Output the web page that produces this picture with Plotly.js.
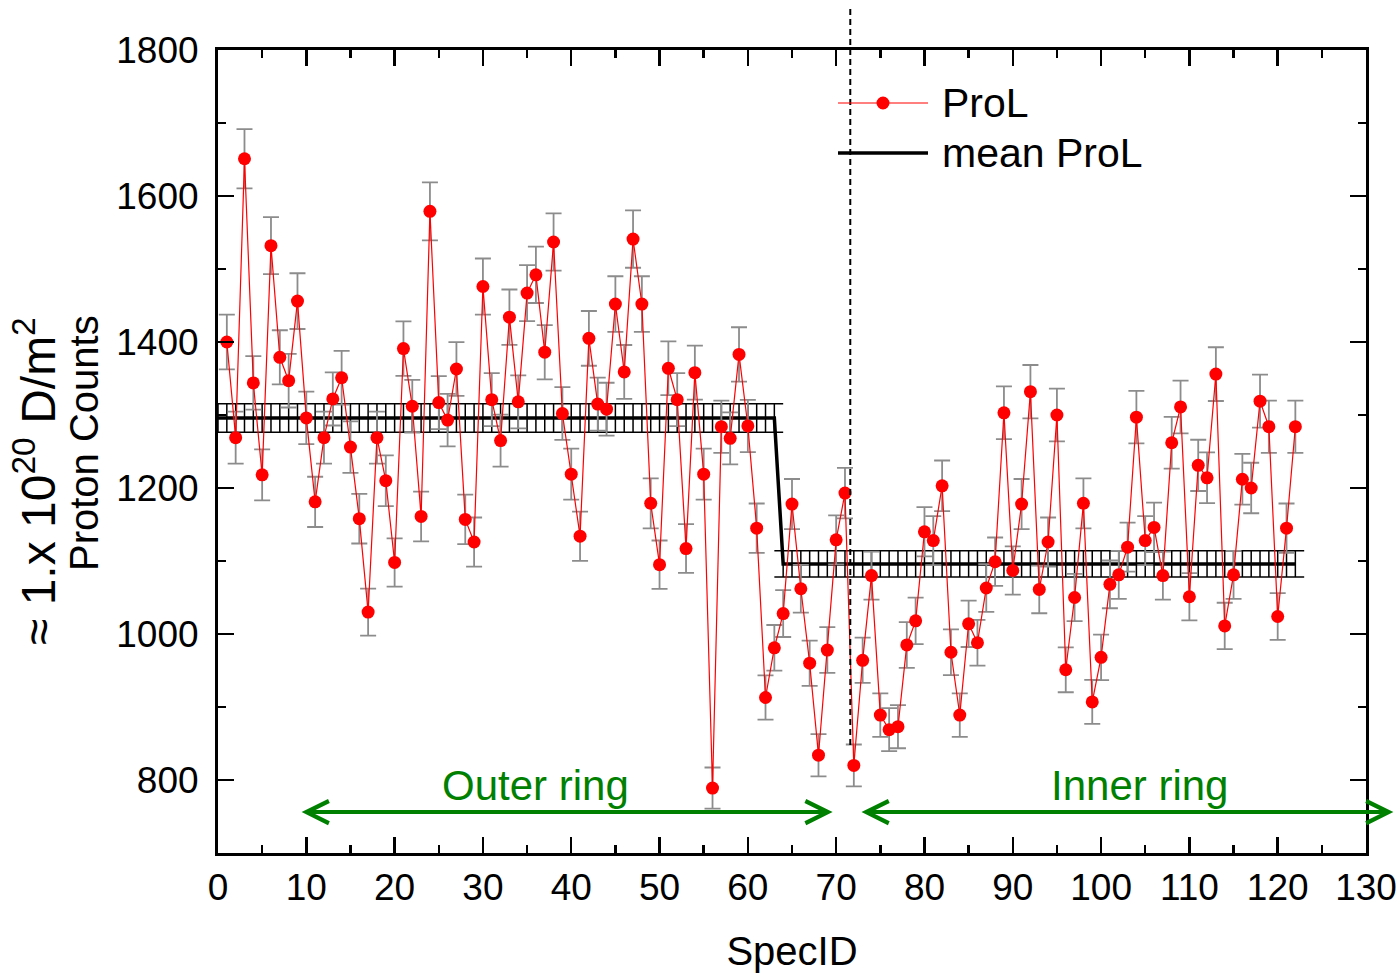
<!DOCTYPE html>
<html>
<head>
<meta charset="utf-8">
<script src="https://cdn.plot.ly/plotly-3.0.1.min.js"></script>
<style>html,body{margin:0;padding:0;background:#fff;}</style>
</head>
<body>
<div id="chart" style="width:1400px;height:973px;"></div>
<script>
// ---------------- data ----------------
const specID = [1,2,3,4,5,6,7,8,9,10,11,12,13,14,15,16,17,18,19,20,
  21,22,23,24,25,26,27,28,29,30,31,32,33,34,35,36,37,38,39,40,
  41,42,43,44,45,46,47,48,49,50,51,52,53,54,55,56,57,58,59,60,
  61,62,63,64,65,66,67,68,69,70,71,72,73,74,75,76,77,78,79,80,
  81,82,83,84,85,86,87,88,89,90,91,92,93,94,95,96,97,98,99,100,
  101,102,103,104,105,106,107,108,109,110,111,112,113,114,115,116,117,118,119,120,
  121,122];
const proL = [1400,1269,1651,1344,1218,1532,1379,1347,1456,1296,1181,1269,1322,1351,1256,1158,1030,1269,1210,1098,
  1391,1312,1161,1579,1317,1293,1363,1157,1126,1476,1321,1265,1434,1318,1467,1492,1386,1537,1302,1219,
  1134,1405,1315,1308,1452,1359,1541,1452,1179,1095,1364,1321,1117,1358,1219,789,1284,1268,1383,1285,
  1145,913,981,1028,1178,1062,960,834,978,1129,1193,820,964,1080,889,869,873,985,1018,1140,
  1128,1203,975,889,1014,988,1063,1099,1303,1087,1178,1332,1061,1126,1300,951,1050,1179,907,968,
  1068,1081,1119,1297,1128,1146,1080,1262,1311,1051,1231,1214,1356,1011,1081,1212,1200,1319,1284,1024,
  1145,1284];
const proLErr = [37.4,35.6,40.6,36.7,34.9,39.1,37.1,36.7,38.2,36.0,34.4,35.6,36.4,36.8,35.4,34.0,32.1,35.6,34.8,33.1,
  37.3,36.2,34.1,39.7,36.3,36.0,36.9,34.0,33.6,38.4,36.3,35.6,37.9,36.3,38.3,38.6,37.2,39.2,36.1,34.9,
  33.7,37.5,36.3,36.2,38.1,36.9,39.3,38.1,34.3,33.1,36.9,36.3,33.4,36.9,34.9,28.1,35.8,35.6,37.2,35.8,
  33.8,30.2,31.3,32.1,34.3,32.6,31.0,28.9,31.3,33.6,34.5,28.6,31.0,32.9,29.8,29.5,29.5,31.4,31.9,33.8,
  33.6,34.7,31.2,29.8,31.8,31.4,32.6,33.2,36.1,33.0,34.3,36.5,32.6,33.6,36.1,30.8,32.4,34.3,30.1,31.1,
  32.7,32.9,33.5,36.0,33.6,33.9,32.9,35.5,36.2,32.4,35.1,34.8,36.8,31.8,32.9,34.8,34.6,36.3,35.8,32.0,
  33.8,35.8];

// mean ProL (step) and its uncertainty bands
const ringNames  = ['Outer ring', 'Inner ring'];
const ringMean   = [1296, 1096];
const ringErr    = [19.5, 18];
const bandFrom   = [0, 63];
const bandTo     = [64, 123];
const hatchFrom  = [0, 64];
const hatchTo    = [63, 122];
const meanX      = [0, 63, 64, 122];
const meanY      = [ringMean[0], ringMean[0], ringMean[1], ringMean[1]];

// ring ranges (arrows) and divider
const ringArrowFrom = [9.3, 72.7];
const ringArrowTo   = [69.6, 133.1];
const ringArrowY    = 756;
const ringLabelX    = [36.0, 104.3];
const ringLabelY    = 793;
const dividerX      = 71.6;
const dividerYLow   = 848;

// ---------------- traces ----------------
const traces = [];
for (let b = 0; b < ringMean.length; b++) {
  const hi = ringMean[b] + ringErr[b];
  const lo = ringMean[b] - ringErr[b];
  const hx = [], hy = [];
  for (let i = hatchFrom[b]; i <= hatchTo[b]; i++) {
    hx.push(i, i, null); hy.push(lo, hi, null);
  }
  hx.push(bandFrom[b], bandTo[b], null, bandFrom[b], bandTo[b]);
  hy.push(hi, hi, null, lo, lo);
  traces.push({
    x: hx, y: hy, type: 'scatter', mode: 'lines',
    line: {color: 'black', width: 1.5},
    name: 'mean ProL error (' + ringNames[b] + ')',
    showlegend: false, hoverinfo: 'skip', connectgaps: false
  });
}
traces.push({
  x: meanX, y: meanY, type: 'scatter', mode: 'lines',
  line: {color: 'black', width: 3.5},
  name: 'mean ProL', showlegend: false
});
traces.push({
  x: specID, y: proL, type: 'scatter', mode: 'lines+markers',
  name: 'ProL',
  line: {color: '#ff0000', width: 1.2},
  marker: {color: '#ff0000', size: 13, symbol: 'circle'},
  error_y: {type: 'data', array: proLErr, visible: true, color: '#8c8c8c', thickness: 1.8, width: 8},
  showlegend: false
});

// ---------------- layout ----------------
const FONT = 'Liberation Sans, Arial, Helvetica, sans-serif';
const green = '#008000';
const L = 218, R = 1366, T = 50, B = 853;
const px = v => (v - L) / (R - L);
const py = v => (B - v) / (B - T);

const annotations = [
  // legend texts
  {xref:'paper', yref:'paper', x: px(940), y: py(103), xanchor:'left', yanchor:'middle',
   text:'ProL', showarrow:false, font:{size:41, color:'black', family:FONT}},
  {xref:'paper', yref:'paper', x: px(940), y: py(153), xanchor:'left', yanchor:'middle',
   text:'mean ProL', showarrow:false, font:{size:41, color:'black', family:FONT}},
  // y title (two lines)
  {xref:'paper', yref:'paper', x: px(35), y: py(481), xanchor:'center', yanchor:'middle',
   textangle:-90, text:'\u2248 1.x 10<sup>20</sup> D/m<sup>2</sup>', showarrow:false,
   font:{size:48, color:'black', family:FONT}},
  {xref:'paper', yref:'paper', x: px(84), y: py(443), xanchor:'center', yanchor:'middle',
   textangle:-90, text:'Proton Counts', showarrow:false,
   font:{size:40, color:'black', family:FONT}}
];
for (let b = 0; b < ringNames.length; b++) {
  annotations.push({
    xref:'x', yref:'y', axref:'x', ayref:'y',
    x: ringArrowTo[b], y: ringArrowY, ax: ringArrowFrom[b], ay: ringArrowY,
    text:'', showarrow:true, arrowside:'end+start', arrowhead:5, startarrowhead:5,
    arrowsize:1.1, startarrowsize:1.1, arrowwidth:4, arrowcolor:green
  });
  annotations.push({
    xref:'x', yref:'y', x: ringLabelX[b], y: ringLabelY, xanchor:'center', yanchor:'middle',
    text: ringNames[b], showarrow:false, font:{size:42, color:green, family:FONT}
  });
}

const shapes = [
  {type:'line', xref:'x', yref:'paper', x0:dividerX, x1:dividerX,
   y0:(dividerYLow - 700) / 1100, y1: py(8),
   line:{color:'black', width:2, dash:'6px,4px'}},
  // legend samples
  {type:'line', xref:'paper', yref:'paper', x0:px(838), x1:px(928), y0:py(103), y1:py(103),
   line:{color:'#ff0000', width:1.2}},
  {type:'circle', xref:'paper', yref:'paper', xsizemode:'pixel', ysizemode:'pixel',
   xanchor:px(883), yanchor:py(103), x0:-6.5, x1:6.5, y0:-6.5, y1:6.5,
   fillcolor:'#ff0000', line:{color:'#ff0000', width:0}},
  {type:'line', xref:'paper', yref:'paper', x0:px(838), x1:px(928), y0:py(153), y1:py(153),
   line:{color:'black', width:3.5}}
];

const axisCommon = {
  ticks:'inside', ticklen:16, tickwidth:2.5, tickcolor:'black',
  showline:true, linewidth:3, linecolor:'black', mirror:'allticks',
  showgrid:false, zeroline:false,
  tickfont:{size:37, color:'black', family:FONT}
};

const layout = {
  width:1400, height:973,
  margin:{l:L, r:1400 - R, t:T, b:973 - B, pad:0},
  paper_bgcolor:'white', plot_bgcolor:'white',
  font:{family:FONT, color:'black'},
  showlegend:false,
  xaxis: Object.assign({}, axisCommon, {
    range:[0,130], tick0:0, dtick:10,
    minor:{dtick:5, ticks:'inside', ticklen:8, tickwidth:2.5, tickcolor:'black', showgrid:false},
    title:{text:'SpecID', font:{size:40, color:'black', family:FONT}, standoff:30}
  }),
  yaxis: Object.assign({}, axisCommon, {
    range:[700,1800], tick0:0, dtick:200, ticklabelstandoff:9,
    minor:{dtick:100, ticks:'inside', ticklen:8, tickwidth:2.5, tickcolor:'black', showgrid:false}
  }),
  annotations: annotations,
  shapes: shapes
};

Plotly.newPlot('chart', traces, layout, {displayModeBar:false, staticPlot:true});
</script>
</body>
</html>
